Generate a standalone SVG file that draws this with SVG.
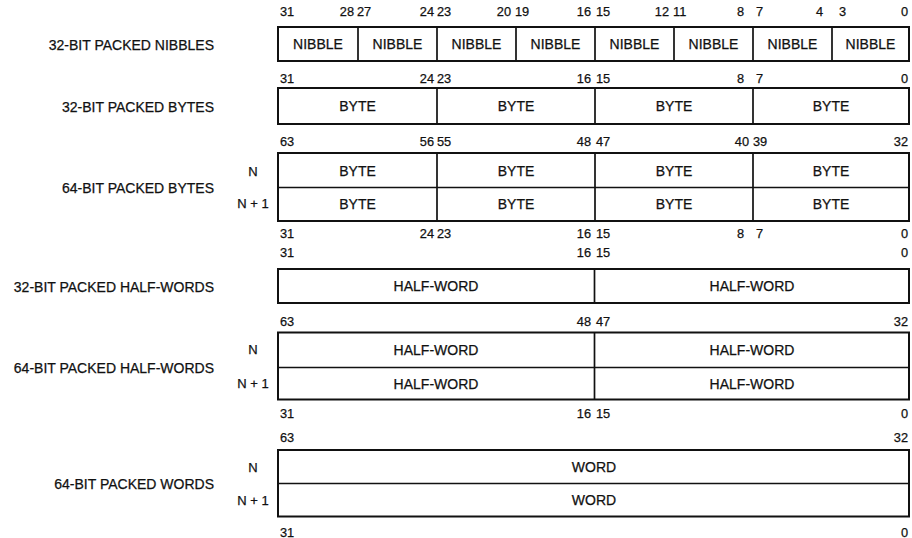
<svg xmlns="http://www.w3.org/2000/svg" width="912" height="538" viewBox="0 0 912 538">
<style>
text{font-family:"Liberation Sans",Arial,sans-serif;fill:#111;stroke:#111;stroke-width:0.25}
.lbl{font-size:14px;text-anchor:end}
.num{font-size:12.8px}
.e{text-anchor:end}
.c{text-anchor:middle}
.f{font-size:14px;text-anchor:middle}
.n{font-size:13px;text-anchor:middle}
.box{fill:#fff;stroke:#111;stroke-width:2}
.div{stroke:#111;stroke-width:1.7;fill:none}
</style>
<rect width="912" height="538" fill="#fff"/>

<g id="nibbles32">
<text class="lbl" x="214" y="50">32-BIT PACKED NIBBLES</text>
<rect class="box" x="278" y="27" width="631" height="34"/>
<path class="div" d="M358,27V61M437,27V61M516,27V61M595,27V61M674,27V61M753,27V61M832,27V61"/>
<g class="num">
<text x="280" y="15.5">31</text>
<text class="e" x="354" y="15.5">28</text><text x="357" y="15.5">27</text>
<text class="e" x="434" y="15.5">24</text><text x="437" y="15.5">23</text>
<text class="e" x="511" y="15.5">20</text><text x="515" y="15.5">19</text>
<text class="e" x="591" y="15.5">16</text><text x="596" y="15.5">15</text>
<text class="e" x="669" y="15.5">12</text><text x="673" y="15.5">11</text>
<text class="e" x="744" y="15.5">8</text><text x="756" y="15.5">7</text>
<text class="e" x="823" y="15.5">4</text><text x="839" y="15.5">3</text>
<text class="e" x="908" y="15.5">0</text>
</g>
<g class="f">
<text x="318" y="49">NIBBLE</text><text x="397.5" y="49">NIBBLE</text>
<text x="476.5" y="49">NIBBLE</text><text x="555.5" y="49">NIBBLE</text>
<text x="634.5" y="49">NIBBLE</text><text x="713.5" y="49">NIBBLE</text>
<text x="792.5" y="49">NIBBLE</text><text x="870.5" y="49">NIBBLE</text>
</g>
</g>

<g id="bytes32">
<text class="lbl" x="214" y="112">32-BIT PACKED BYTES</text>
<rect class="box" x="278" y="88" width="631" height="36"/>
<path class="div" d="M437,88V124M595,88V124M753,88V124"/>
<g class="num">
<text x="280" y="83">31</text>
<text class="e" x="434" y="83">24</text><text x="437" y="83">23</text>
<text class="e" x="591" y="83">16</text><text x="596" y="83">15</text>
<text class="e" x="744" y="83">8</text><text x="756" y="83">7</text>
<text class="e" x="908" y="83">0</text>
</g>
<g class="f">
<text x="357.5" y="111">BYTE</text><text x="516" y="111">BYTE</text>
<text x="674" y="111">BYTE</text><text x="831" y="111">BYTE</text>
</g>
</g>

<g id="bytes64">
<text class="lbl" x="214" y="193">64-BIT PACKED BYTES</text>
<text class="n" x="253" y="176">N</text>
<text class="n" x="253" y="207.5">N + 1</text>
<rect class="box" x="278" y="153" width="631" height="68"/>
<path class="div" d="M278,187.5H909M437,153V221M595,153V221M753,153V221"/>
<g class="num">
<text x="280" y="145.5">63</text>
<text class="e" x="434" y="145.5">56</text><text x="437" y="145.5">55</text>
<text class="e" x="591" y="145.5">48</text><text x="596" y="145.5">47</text>
<text class="e" x="749" y="145.5">40</text><text x="753" y="145.5">39</text>
<text class="e" x="908" y="145.5">32</text>
<text x="280" y="238">31</text>
<text class="e" x="434" y="238">24</text><text x="437" y="238">23</text>
<text class="e" x="591" y="238">16</text><text x="596" y="238">15</text>
<text class="e" x="744" y="238">8</text><text x="756" y="238">7</text>
<text class="e" x="908" y="238">0</text>
</g>
<g class="f">
<text x="357.5" y="175.5">BYTE</text><text x="516" y="175.5">BYTE</text>
<text x="674" y="175.5">BYTE</text><text x="831" y="175.5">BYTE</text>
<text x="357.5" y="209">BYTE</text><text x="516" y="209">BYTE</text>
<text x="674" y="209">BYTE</text><text x="831" y="209">BYTE</text>
</g>
</g>

<g id="halfwords32">
<text class="lbl" x="214" y="291.5">32-BIT PACKED HALF-WORDS</text>
<rect class="box" x="278" y="269" width="631" height="34"/>
<path class="div" d="M594.5,269V303"/>
<g class="num">
<text x="280" y="257">31</text>
<text class="e" x="591" y="257">16</text><text x="596" y="257">15</text>
<text class="e" x="908" y="257">0</text>
</g>
<g class="f">
<text x="436" y="291">HALF-WORD</text><text x="752" y="291">HALF-WORD</text>
</g>
</g>

<g id="halfwords64">
<text class="lbl" x="214" y="372.5">64-BIT PACKED HALF-WORDS</text>
<text class="n" x="253" y="354">N</text>
<text class="n" x="253" y="388">N + 1</text>
<rect class="box" x="278" y="332.5" width="631" height="67"/>
<path class="div" d="M278,367.5H909M594.5,332.5V399.5"/>
<g class="num">
<text x="280" y="326">63</text>
<text class="e" x="591" y="326">48</text><text x="596" y="326">47</text>
<text class="e" x="908" y="326">32</text>
<text x="280" y="418">31</text>
<text class="e" x="591" y="418">16</text><text x="596" y="418">15</text>
<text class="e" x="908" y="418">0</text>
</g>
<g class="f">
<text x="436" y="354.5">HALF-WORD</text><text x="752" y="354.5">HALF-WORD</text>
<text x="436" y="388.5">HALF-WORD</text><text x="752" y="388.5">HALF-WORD</text>
</g>
</g>

<g id="words64">
<text class="lbl" x="214" y="489">64-BIT PACKED WORDS</text>
<text class="n" x="253" y="471.5">N</text>
<text class="n" x="253" y="505">N + 1</text>
<rect class="box" x="278" y="450" width="631" height="66.5"/>
<path class="div" d="M278,483.5H909"/>
<g class="num">
<text x="280" y="442">63</text>
<text class="e" x="908" y="442">32</text>
<text x="280" y="536.5">31</text>
<text class="e" x="908" y="536.5">0</text>
</g>
<g class="f">
<text x="594" y="471.5">WORD</text>
<text x="594" y="505">WORD</text>
</g>
</g>
</svg>
